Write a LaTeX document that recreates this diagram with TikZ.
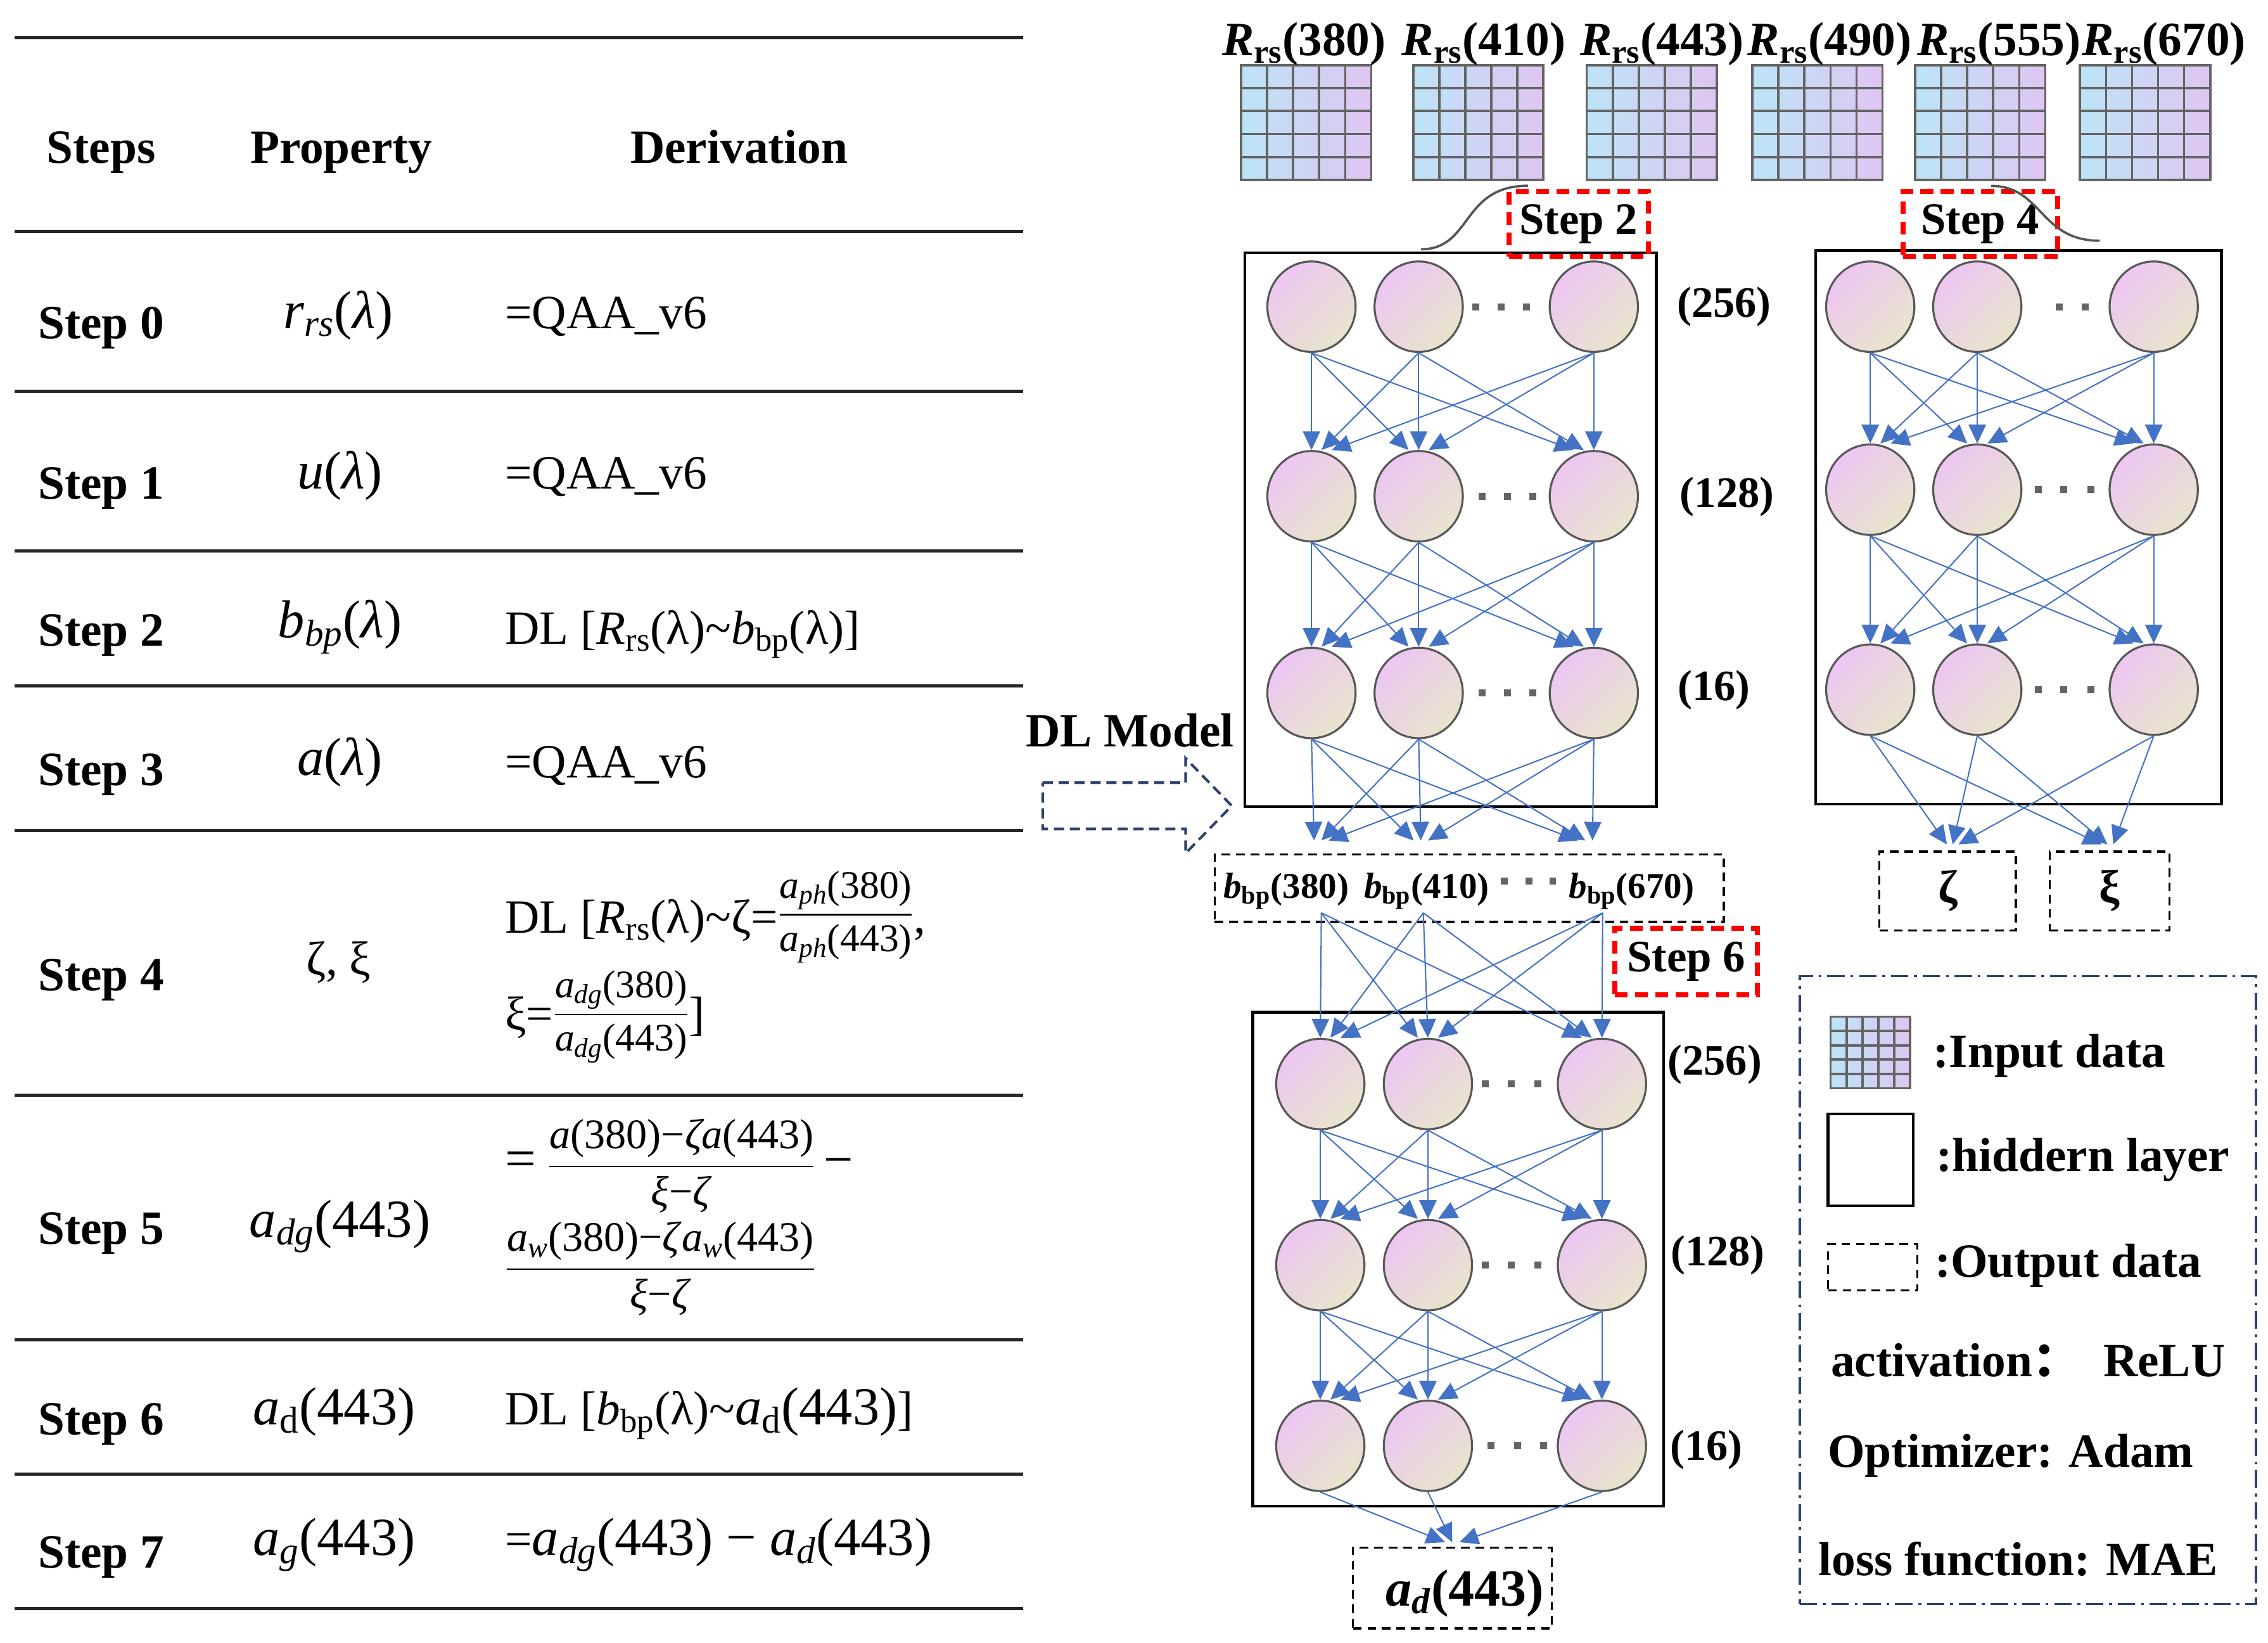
\RequirePackage{fix-cm}
\documentclass[tikz,border=0pt]{standalone}
\usepackage{amsmath}
\usepackage{fontspec}
\setmainfont{Liberation Serif}
\newfontfamily\cjkfont{Noto Sans CJK SC}
\usetikzlibrary{shapes.geometric,arrows.meta,calc}
\definecolor{arrblue}{RGB}{68,114,196}
\definecolor{nodeedge}{RGB}{88,88,88}
\definecolor{nodepink}{RGB}{236,198,242}
\definecolor{nodebeige}{RGB}{232,228,204}
\definecolor{gridblue}{RGB}{188,228,246}
\definecolor{gridlav}{RGB}{224,198,242}
\definecolor{gridgray}{RGB}{100,100,100}
\definecolor{stepred}{RGB}{255,0,0}
\definecolor{navy}{RGB}{45,65,110}
\definecolor{dotgray}{RGB}{100,100,100}
\definecolor{calloutgray}{RGB}{85,85,85}
\newcommand{\setfs}[1]{\fontsize{#1}{#1}\selectfont}
\newcommand{\sqdot}[2]{\fill[dotsq] ({#1-2.4},{#2-2.4}) rectangle ({#1+2.4},{#2+2.4});}
\newcommand{\isub}[2]{\textit{#1}\textsubscript{\textit{#2}}}
\newcommand{\rsub}[2]{\textit{#1}\textsubscript{#2}}
\newcommand{\txfrac}[2]{$\displaystyle\frac{\mbox{#1}}{\mbox{#2}}$}
\tikzset{
  neuron/.style={ellipse, minimum width=61, minimum height=62.5, inner sep=0,
    draw=nodeedge, line width=1.4, top color=nodepink, bottom color=nodebeige, shading angle=45},
  conn/.style={draw=arrblue, line width=0.9, -{Triangle[length=13pt,width=12pt]}},
  hidbox/.style={rectangle, draw=black, line width=2, inner sep=0},
  outbox/.style={rectangle, draw=black, line width=1.5, dash pattern=on 6pt off 4pt, inner sep=0},
  redbox/.style={rectangle, draw=stepred, line width=3.5, dash pattern=on 9pt off 5pt, inner sep=0, font=\bfseries\setfs{31}},
  ingrid/.style={rectangle, inner sep=0, minimum width=90, minimum height=79.4, draw=gridgray, line width=1.6,
    left color=gridblue, right color=gridlav,
    path picture={
      \foreach \k in {0.2,0.4,0.6,0.8}{
        \draw[gridgray, line width=1.6] ($(path picture bounding box.south west)!\k!(path picture bounding box.south east)$) -- ($(path picture bounding box.north west)!\k!(path picture bounding box.north east)$);
        \draw[gridgray, line width=1.6] ($(path picture bounding box.south west)!\k!(path picture bounding box.north west)$) -- ($(path picture bounding box.south east)!\k!(path picture bounding box.north east)$);
      }}},
  tline/.style={draw=black!85, line width=2.2},
  tabtxt/.style={inner sep=0, font=\setfs{33}},
  tabbold/.style={inner sep=0, font=\bfseries\setfs{33}},
  layerlab/.style={inner sep=0, font=\bfseries\setfs{30}},
  leg/.style={inner sep=0, font=\bfseries\setfs{33}},
  toplab/.style={inner sep=0, font=\bfseries\setfs{33}},
  bblab/.style={inner sep=0, font=\bfseries\setfs{25}},
  callout/.style={draw=calloutgray, line width=1.6},
  dotsq/.style={fill=dotgray},
}
\begin{document}
\begin{tikzpicture}[x=1pt,y=-1pt]
\useasboundingbox (0,0) rectangle (1568,1135.7);
% ---------------- table ----------------
\foreach \yy in {26,160,270.5,381,474,574,757,926,1019,1112}{\draw[tline] (10,\yy) -- (707.5,\yy);}
\node[tabbold, anchor=base] (hSteps) at (70,112.6) {Steps};
\node[tabbold, anchor=base] (hProp) at (236,112.6) {Property};
\node[tabbold, anchor=base] (hDer) at (511,112.6) {Derivation};
\node[tabbold, anchor=base west] (s0) at (26.3,234) {Step 0};
\node[tabbold, anchor=base west] (s1) at (26.3,345) {Step 1};
\node[tabbold, anchor=base west] (s2) at (26.3,446.7) {Step 2};
\node[tabbold, anchor=base west] (s3) at (26.3,543) {Step 3};
\node[tabbold, anchor=base west] (s4) at (26.3,685) {Step 4};
\node[tabbold, anchor=base west] (s5) at (26.3,860) {Step 5};
\node[tabbold, anchor=base west] (s6) at (26.3,992) {Step 6};
\node[tabbold, anchor=base west] (s7) at (26.3,1084) {Step 7};
\node[tabtxt, anchor=base] (p0) at (234,227) {\setfs{37}\isub{r}{rs}(\textit{λ})};
\node[tabtxt, anchor=base] (p1) at (235,338) {\setfs{37}\textit{u}(\textit{λ})};
\node[tabtxt, anchor=base] (p2) at (235,441) {\setfs{37}\isub{b}{bp}(\textit{λ})};
\node[tabtxt, anchor=base] (p3) at (235,536) {\setfs{37}\textit{a}(\textit{λ})};
\node[tabtxt, anchor=base] (p4) at (234,674) {ζ, ξ};
\node[tabtxt, anchor=base] (p5) at (235,855) {\setfs{37}\isub{a}{dg}(443)};
\node[tabtxt, anchor=base] (p6) at (231,985) {\setfs{37}\rsub{a}{d}(443)};
\node[tabtxt, anchor=base] (p7) at (231,1075) {\setfs{37}\isub{a}{g}(443)};
\node[tabtxt, anchor=base west] (d0) at (349,227) {=QAA\_v6};
\node[tabtxt, anchor=base west] (d1) at (349,338) {=QAA\_v6};
\node[tabtxt, anchor=base west] (d2) at (349,445) {DL [\rsub{R}{rs}(λ)\textasciitilde\rsub{b}{bp}(λ)]};
\node[tabtxt, anchor=base west] (d3) at (349,537.5) {=QAA\_v6};
\node[tabtxt, anchor=base west] (d4a) at (349,645) {DL [\rsub{R}{rs}(λ)\textasciitilde ζ=\raisebox{6pt}{\setfs{27}\txfrac{\isub{a}{ph}(380)}{\isub{a}{ph}(443)}},};
\node[tabtxt, anchor=base west] (d4b) at (349,712) {ξ=\raisebox{4pt}{\setfs{27}\txfrac{\isub{a}{dg}(380)}{\isub{a}{dg}(443)}}]};
\node[tabtxt, anchor=west] (d5a) at (349,806) {{\setfs{38}=}\hspace{8pt}{\setfs{29}\txfrac{\textit{a}(380)−\textit{ζa}(443)}{\textit{ξ}−\textit{ζ}}}\hspace{6pt}{\setfs{36}−}};
\node[tabtxt, anchor=west] (d5b) at (349,877) {\setfs{29}\txfrac{\isub{a}{w}(380)−\textit{ζ}\isub{a}{w}(443)}{\textit{ξ}−\textit{ζ}}};
\node[tabtxt, anchor=base west] (d6) at (349,985) {DL [\rsub{b}{bp}(λ)\textasciitilde{\setfs{37}\rsub{a}{d}(443)}]};
\node[tabtxt, anchor=base west] (d7) at (349,1075) {={\setfs{37}\isub{a}{dg}(443) − \isub{a}{d}(443)}};
% ---------------- inputs ----------------
\node[ingrid] (g1) at (903,84.7) {};
\node[ingrid] (g2) at (1022,84.7) {};
\node[ingrid] (g3) at (1142,84.7) {};
\node[ingrid] (g4) at (1256.5,84.7) {};
\node[ingrid] (g5) at (1369,84.7) {};
\node[ingrid] (g6) at (1483,84.7) {};
\node[toplab, anchor=base] (r1) at (901.5,38.5) {\rsub{R}{rs}(380)};
\node[toplab, anchor=base] (r2) at (1025.8,38.5) {\rsub{R}{rs}(410)};
\node[toplab, anchor=base] (r3) at (1149,38.5) {\rsub{R}{rs}(443)};
\node[toplab, anchor=base] (r4) at (1265,38.5) {\rsub{R}{rs}(490)};
\node[toplab, anchor=base] (r5) at (1382,38.5) {\rsub{R}{rs}(555)};
\node[toplab, anchor=base] (r6) at (1496,38.5) {\rsub{R}{rs}(670)};
% ---------------- hidden boxes ----------------
\node[hidbox, minimum width=284.6, minimum height=382.7] (H1) at (1002.9,366.15) {};
\node[hidbox, minimum width=280.5, minimum height=382.6] (H2) at (1395.55,364.5) {};
\node[hidbox, minimum width=284, minimum height=341.3] (H3) at (1008.2,870.35) {};
% dots
\sqdot{1020.2}{212}\sqdot{1037.8}{212}\sqdot{1055.5}{212}
\sqdot{1024.5}{343}\sqdot{1042}{343}\sqdot{1059.7}{343}
\sqdot{1024.5}{479}\sqdot{1042}{479}\sqdot{1059.7}{479}
\sqdot{1423.6}{212}\sqdot{1441.7}{212}\sqdot{1460.6}{212}
\sqdot{1409}{338.5}\sqdot{1426.8}{338.5}\sqdot{1445.4}{338.5}
\sqdot{1409}{476.7}\sqdot{1426.8}{476.7}\sqdot{1445.4}{476.7}
\sqdot{1026.8}{749.3}\sqdot{1044.9}{749.3}\sqdot{1063.1}{749.3}
\sqdot{1026.8}{874.5}\sqdot{1044.9}{874.5}\sqdot{1063.1}{874.5}
\sqdot{1031}{999.4}\sqdot{1049}{999.4}\sqdot{1067}{999.4}
% neurons
\foreach \c/\xx in {1/906.7,2/980.8,3/1101.9}{
  \node[neuron] (A1\c) at (\xx,212) {};
  \node[neuron] (A2\c) at (\xx,343) {};
  \node[neuron] (A3\c) at (\xx,479) {};}
\foreach \c/\xx in {1/1293,2/1367,3/1489}{
  \node[neuron] (B1\c) at (\xx,212) {};
  \node[neuron] (B2\c) at (\xx,338.5) {};
  \node[neuron] (B3\c) at (\xx,476.7) {};}
\foreach \c/\xx in {1/912.8,2/987.2,3/1107.5}{
  \node[neuron] (C1\c) at (\xx,749.3) {};
  \node[neuron] (C2\c) at (\xx,874.5) {};
  \node[neuron] (C3\c) at (\xx,999.4) {};}
% layer labels
\node[layerlab] (l1a) at (1192,212) {(256)};
\node[layerlab] (l1b) at (1194,343.5) {(128)};
\node[layerlab] (l1c) at (1185,477) {(16)};
\node[layerlab] (l3a) at (1185.5,735.7) {(256)};
\node[layerlab] (l3b) at (1187.6,867.7) {(128)};
\node[layerlab] (l3c) at (1179.8,1002) {(16)};
% ---------------- outputs ----------------
\node[outbox, minimum width=352, minimum height=46.8] (BB) at (1015.8,613.9) {};
\node[bblab, anchor=base] (bb1) at (889.2,621) {\rsub{b}{bp}(380)};
\node[bblab, anchor=base] (bb2) at (986.3,621) {\rsub{b}{bp}(410)};
\node[bblab, anchor=base] (bb3) at (1128,621) {\rsub{b}{bp}(670)};
\sqdot{1040}{609}\sqdot{1057}{609}\sqdot{1073.5}{609}
\node[outbox, minimum width=94.3, minimum height=54.6, font=\bfseries\setfs{32}] (ZB) at (1346.55,615.9) {ζ};
\node[outbox, minimum width=82.8, minimum height=54.6, font=\bfseries\setfs{32}] (XB) at (1458.4,615.9) {ξ};
\node[outbox, minimum width=137.4, minimum height=55.9] (AD) at (1004.1,1097.65) {};
\node[inner sep=0, font=\bfseries\setfs{36}, anchor=base] (ADt) at (1012.8,1110) {\isub{a}{d}(443)};
% ---------------- connectors ----------------
\coordinate (bt1) at (908.5,581); \coordinate (bt2) at (982.3,581); \coordinate (bt3) at (1101,581);
\coordinate (bs1) at (913.5,631); \coordinate (bs2) at (984,631); \coordinate (bs3) at (1108,631);
\coordinate (zt) at (1350,583.7); \coordinate (xt) at (1457,583.7);
\coordinate (adt) at (1004,1066);
\foreach \s in {1,2,3}{
  \foreach \t in {1,2,3}{
    \draw[conn] (A1\s.south) -- ([xshift={(\s-\t)*7}]A2\t.north);
    \draw[conn] (A2\s.south) -- ([xshift={(\s-\t)*7}]A3\t.north);
    \draw[conn] (A3\s.south) -- ([xshift={(\s-\t)*5}]bt\t);
    \draw[conn] (B1\s.south) -- ([xshift={(\s-\t)*7}]B2\t.north);
    \draw[conn] (B2\s.south) -- ([xshift={(\s-\t)*7}]B3\t.north);
    \draw[conn] (bs\s) -- ([xshift={(\s-\t)*7}]C1\t.north);
    \draw[conn] (C1\s.south) -- ([xshift={(\s-\t)*7}]C2\t.north);
    \draw[conn] (C2\s.south) -- ([xshift={(\s-\t)*7}]C3\t.north);
  }
  \draw[conn] (B3\s.south) -- ([xshift={(\s-2)*4}]zt);
  \draw[conn] (B3\s.south) -- ([xshift={(\s-2)*4}]xt);
  \draw[conn] (C3\s.south) -- ([xshift={(\s-2)*5}]adt);
}
% ---------------- step boxes ----------------
\node[redbox, minimum width=96.3, minimum height=45.1] (S2) at (1091.45,154.85) {Step 2};
\node[redbox, minimum width=107, minimum height=45.1] (S4) at (1369,154.85) {\raisebox{-3pt}{Step 4}};
\node[redbox, minimum width=98.8, minimum height=45.9] (S6) at (1165.7,664.65) {Step 6};
\coordinate (cs2a) at (982.4,172.3); \coordinate (cs2b) at (1056.4,128.4);
\draw[callout] (cs2a) .. controls (1018,172.3) and (1010,128.4) .. (cs2b);
\coordinate (cs4a) at (1376.5,128.5); \coordinate (cs4b) at (1451.6,166.4);
\draw[callout] (cs4a) .. controls (1412,128.5) and (1410,166.4) .. (cs4b);
% ---------------- DL model arrow ----------------
\node[inner sep=0, anchor=base west, font=\bfseries\setfs{33}] (DLM) at (709,516) {DL Model};
\draw[draw=navy, line width=1.8, dash pattern=on 7pt off 4pt] (720.9,541) -- (819.7,541) -- (819.7,524.2) -- (851.6,557) -- (819.7,589.8) -- (819.7,573) -- (720.9,573) -- cycle;
% ---------------- legend ----------------
\node[rectangle, draw=navy, line width=1.6, dash pattern=on 12pt off 4pt on 2pt off 4pt, minimum width=315.5, minimum height=434.1, inner sep=0] (LG) at (1401.95,891.75) {};
\node[ingrid, minimum width=55, minimum height=49.4] (Lg1) at (1293.1,727.5) {};
\node[hidbox, minimum width=58.8, minimum height=63.4] (Lg2) at (1293.3,801.7) {};
\node[outbox, minimum width=61.6, minimum height=32] (Lg3) at (1294.7,876) {};
\node[leg, anchor=base west] (Lt1) at (1336.4,737.9) {:Input data};
\node[leg, anchor=base west] (Lt2) at (1338.6,809.6) {:hiddern layer};
\node[leg, anchor=base west] (Lt3) at (1337.5,882.9) {:Output data};
\node[leg, anchor=base west] (Lt4) at (1265.6,951.6) {activation{\cjkfont ：}\hspace{16pt}ReLU};
\node[leg, anchor=base west] (Lt5) at (1263.4,1014.2) {Optimizer: Adam};
\node[leg, anchor=base west] (Lt6) at (1257,1089) {loss function: MAE};
\end{tikzpicture}
\end{document}
